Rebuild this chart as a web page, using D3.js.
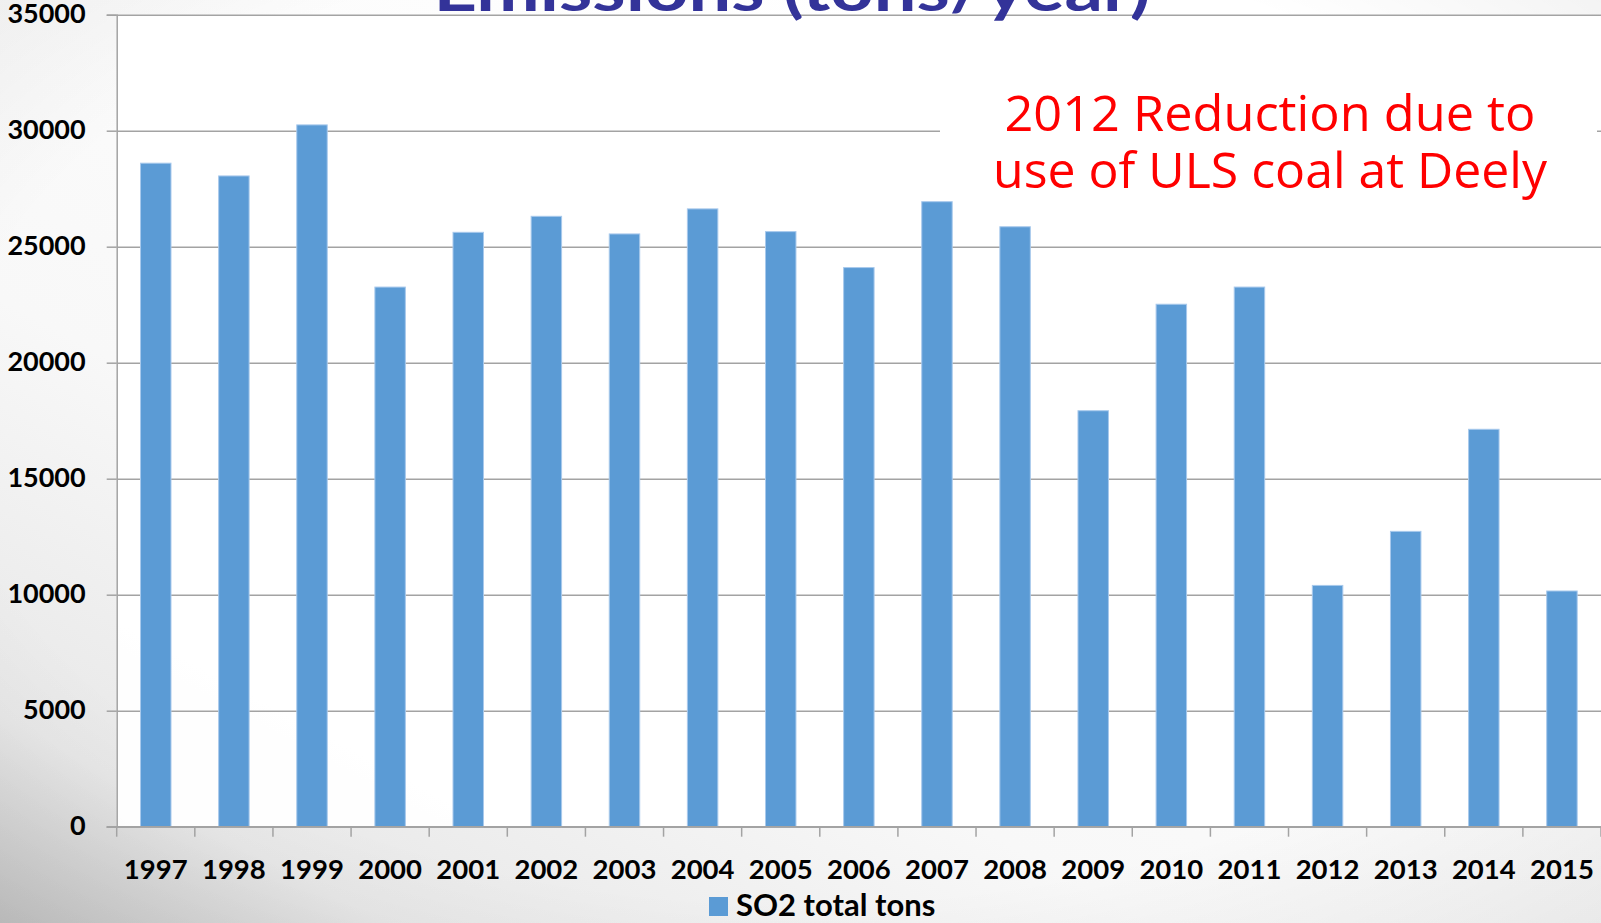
<!DOCTYPE html>
<html>
<head>
<meta charset="utf-8">
<script src="https://cdn.jsdelivr.net/npm/d3@7"></script>
<style>
  html, body { margin: 0; padding: 0; background: #ffffff; }
  svg { display: block; }
</style>
</head>
<body>
<svg id="chart" width="1601" height="923"></svg>
<script>
// SO2 emissions per year (tons)
const years = ["1997","1998","1999","2000","2001","2002","2003","2004","2005","2006",
               "2007","2008","2009","2010","2011","2012","2013","2014","2015"];
const so2Tons = [28600, 28050, 30250, 23260, 25620, 26310, 25550, 26630, 25650, 24100,
                 26940, 25860, 17930, 22520, 23260, 10400, 12730, 17130, 10160];
const yTicks = [0, 5000, 10000, 15000, 20000, 25000, 30000, 35000];
const titleText = "Emissions (tons/year)";
const noteLines = ["2012 Reduction due to", "use of ULS coal at Deely"];
const seriesName = "SO2 total tons";

const W = 1601, H = 923;
const svg = d3.select("#chart");
const plotL = 116.7, plotR = 1601, plotT = 14.7, plotB = 826.7;

// slide background
const defs = svg.append("defs");
const bg = defs.append("linearGradient").attr("id", "bg")
  .attr("x1", "75%").attr("y1", "20%").attr("x2", "0%").attr("y2", "100%");
bg.append("stop").attr("offset", "0").attr("stop-color", "#ffffff");
bg.append("stop").attr("offset", "0.55").attr("stop-color", "#f8f8f8");
bg.append("stop").attr("offset", "0.85").attr("stop-color", "#e8e8e8");
bg.append("stop").attr("offset", "1").attr("stop-color", "#c6c6c6");
svg.append("rect").attr("width", W).attr("height", H).attr("fill", "url(#bg)");

const edge = defs.append("radialGradient").attr("id", "edge")
  .attr("cx", "50%").attr("cy", "45%").attr("r", "75%");
edge.append("stop").attr("offset", "0.7").attr("stop-color", "#000").attr("stop-opacity", 0);
edge.append("stop").attr("offset", "1").attr("stop-color", "#000").attr("stop-opacity", 0.07);
svg.append("rect").attr("width", W).attr("height", H).attr("fill", "url(#edge)");

// plot area
svg.append("rect").attr("x", plotL).attr("y", plotT)
  .attr("width", plotR - plotL).attr("height", plotB - plotT)
  .attr("fill", "#ffffff").attr("opacity", 0.95);

const x = d3.scaleBand().domain(years).range([plotL, plotR])
  .paddingInner(0.61).paddingOuter(0.305);
const y = d3.scaleLinear().domain([0, 35000]).range([plotB, plotT]);

const font = "Lato, 'Open Sans', sans-serif";
const gridColor = "#a3a3a3";

// gridlines
svg.append("g").attr("transform", `translate(${plotL},0)`)
  .call(d3.axisLeft(y).tickValues(yTicks).tickSize(-(plotR - plotL)).tickFormat(""))
  .call(g => g.select(".domain").remove())
  .call(g => g.selectAll("line").attr("stroke", gridColor).attr("stroke-width", 1.5));

// y axis with labels
svg.append("g").attr("transform", `translate(${plotL},0)`)
  .call(d3.axisLeft(y).tickValues(yTicks).tickSize(10).tickPadding(21).tickFormat(d3.format("d")))
  .call(g => g.select(".domain").attr("stroke", gridColor).attr("stroke-width", 1.5))
  .call(g => g.selectAll("line").attr("stroke", gridColor).attr("stroke-width", 1.5))
  .call(g => g.selectAll("text")
    .attr("fill", "#000").attr("font-family", font).attr("font-weight", 700)
    .attr("font-size", 27).attr("dy", "0.32em").attr("y", -1));

// bars
svg.append("g").selectAll("rect").data(years).join("rect")
  .attr("x", d => x(d))
  .attr("y", (d, i) => y(so2Tons[i]))
  .attr("width", x.bandwidth())
  .attr("height", (d, i) => y(0) - y(so2Tons[i]))
  .attr("fill", "#5b9bd5")
  .attr("stroke", "#a8c9ec").attr("stroke-width", 1);

// x axis: line, category boundary ticks, labels
const gap = (x.step() - x.bandwidth()) / 2;
const bounds = years.map(d => x(d) - gap).concat([x(years[years.length - 1]) + x.bandwidth() + gap]);
const xa = svg.append("g");
xa.append("line").attr("x1", plotL - 10).attr("x2", plotR).attr("y1", y(0)).attr("y2", y(0))
  .attr("stroke", gridColor).attr("stroke-width", 1.5);
xa.selectAll("line.tick").data(bounds).join("line").attr("class", "tick")
  .attr("x1", d => d).attr("x2", d => d).attr("y1", y(0)).attr("y2", y(0) + 10)
  .attr("stroke", gridColor).attr("stroke-width", 1.5);
xa.selectAll("text").data(years).join("text")
  .attr("x", d => x(d) + x.bandwidth() / 2).attr("y", 879)
  .attr("text-anchor", "middle")
  .attr("font-family", font).attr("font-weight", 700).attr("font-size", 27.5)
  .attr("fill", "#000").text(d => d);

// title (partly above the page edge)
svg.append("text").attr("x", 792).attr("y", 11)
  .attr("text-anchor", "middle")
  .attr("font-family", font).attr("font-weight", 700).attr("font-size", 62)
  .attr("textLength", 717).attr("lengthAdjust", "spacingAndGlyphs")
  .attr("fill", "#333399").text(titleText);

// annotation box
svg.append("rect").attr("x", 940).attr("y", 73).attr("width", 657).attr("height", 126)
  .attr("fill", "#ffffff");
const noteWidths = [531, 554];
svg.append("g").selectAll("text").data(noteLines).join("text")
  .attr("x", 1270).attr("y", (d, i) => 131 + i * 56.5)
  .attr("text-anchor", "middle")
  .attr("font-family", "'Open Sans', 'Noto Sans', sans-serif").attr("font-size", 49)
  .attr("textLength", (d, i) => noteWidths[i]).attr("lengthAdjust", "spacingAndGlyphs")
  .attr("fill", "#ff0000").text(d => d);

// legend
const lg = svg.append("g");
lg.append("rect").attr("x", 709).attr("y", 897).attr("width", 19).attr("height", 19)
  .attr("fill", "#5b9bd5");
lg.append("text").attr("x", 736).attr("y", 916)
  .attr("font-family", font).attr("font-weight", 700).attr("font-size", 31)
  .attr("fill", "#000").text(seriesName);
</script>
</body>
</html>
